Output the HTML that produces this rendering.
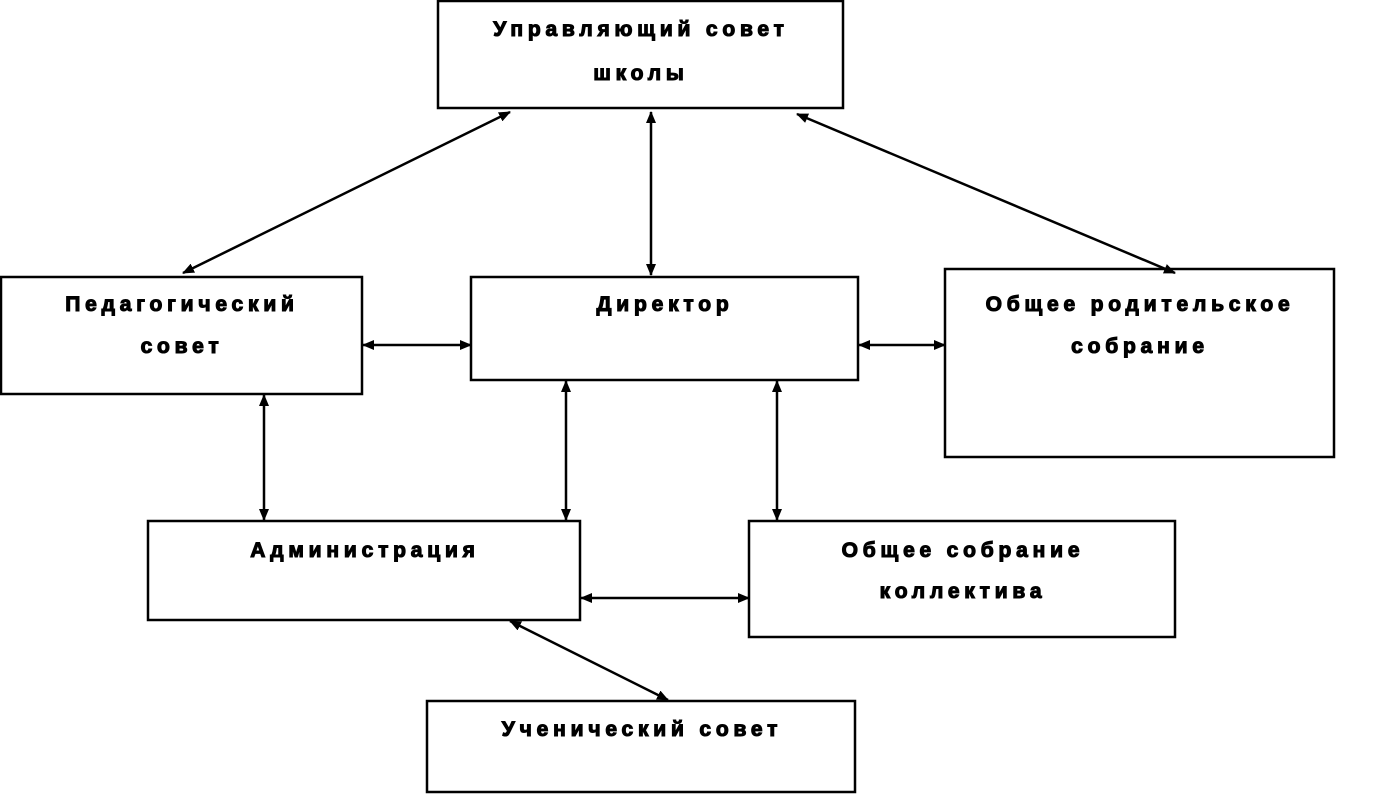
<!DOCTYPE html>
<html><head><meta charset="utf-8"><style>
html,body{margin:0;padding:0;background:#fff;}
svg{display:block}
text{font-family:"Liberation Sans","DejaVu Sans",sans-serif;font-weight:bold;font-size:21px;letter-spacing:4.8px;text-anchor:middle;fill:#000;stroke:#000;stroke-width:1.1px}
</style></head><body>
<svg width="1378" height="800" viewBox="0 0 1378 800">
<defs>
<marker id="a" markerWidth="12" markerHeight="10" refX="11" refY="5" orient="auto-start-reverse" markerUnits="userSpaceOnUse">
<path d="M0,0 L12,5 L0,10 Z" fill="#000"/></marker>
</defs>
<g fill="#fff" stroke="#000" stroke-width="2.5">
<rect x="438" y="1" width="405" height="107"/>
<rect x="1" y="277" width="361" height="117"/>
<rect x="471" y="277" width="387" height="103"/>
<rect x="945" y="269" width="389" height="188"/>
<rect x="148" y="521" width="432" height="99"/>
<rect x="749" y="521" width="426" height="116"/>
<rect x="427" y="701" width="428" height="91"/>
</g>
<g stroke="#000" stroke-width="2.5" marker-start="url(#a)" marker-end="url(#a)">
<line x1="510" y1="112" x2="183" y2="273"/>
<line x1="651" y1="112" x2="651" y2="275"/>
<line x1="797" y1="114" x2="1175" y2="273"/>
<line x1="363" y1="345" x2="471" y2="345"/>
<line x1="859" y1="345" x2="945" y2="345"/>
<line x1="264" y1="395" x2="264" y2="520"/>
<line x1="566" y1="381" x2="566" y2="520"/>
<line x1="777" y1="381" x2="777" y2="520"/>
<line x1="581" y1="598" x2="749" y2="598"/>
<line x1="510" y1="621" x2="668" y2="700"/>
</g>
<text x="641" y="36">Управляющий совет</text>
<text x="641" y="80">школы</text>
<text x="182" y="311">Педагогический</text>
<text x="182" y="353">совет</text>
<text x="665" y="311">Директор</text>
<text x="1140" y="311">Общее родительское</text>
<text x="1140" y="353">собрание</text>
<text x="365" y="557">Администрация</text>
<text x="963" y="557">Общее собрание</text>
<text x="963" y="598">коллектива</text>
<text x="642" y="736">Ученический совет</text>
</svg>
</body></html>
